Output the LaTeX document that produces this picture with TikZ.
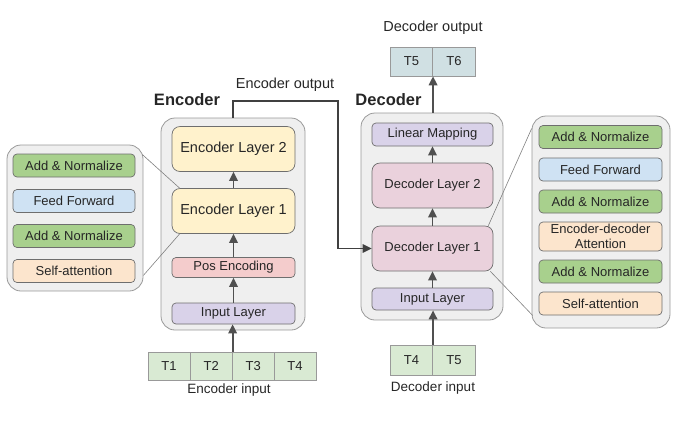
\documentclass[tikz,border=0pt]{standalone}
\usepackage{fontspec}
\setmainfont{Liberation Sans}
\usepackage{tikz}
\usetikzlibrary{arrows.meta,calc}
\definecolor{panelgray}{HTML}{EFEFEF}
\definecolor{panelline}{HTML}{999999}
\definecolor{blkline}{HTML}{6E6E6E}
\definecolor{arrgray}{HTML}{505050}
\definecolor{layyellow}{HTML}{FFF2CC}
\definecolor{normgreen}{HTML}{A8D08D}
\definecolor{ffblue}{HTML}{CFE2F3}
\definecolor{attorange}{HTML}{FCE5CD}
\definecolor{posred}{HTML}{F4CCCC}
\definecolor{decpink}{HTML}{EAD1DC}
\definecolor{inpurple}{HTML}{D9D2E9}
\definecolor{tokgreen}{HTML}{D9EAD3}
\definecolor{tokblue}{HTML}{D0E0E3}

\begin{document}
\begin{tikzpicture}[x=1pt,y=-1pt,text=black!85,
panel/.style={draw=panelline, fill=panelgray, rounded corners=14pt, line width=0.8pt},
blk/.style={draw=blkline, rounded corners=4pt, line width=0.7pt, inner sep=0pt, align=center, minimum width=123pt, minimum height=23pt, font=\fontsize{13}{14.5}\selectfont},
bigblk/.style={blk, rounded corners=8pt, minimum height=45pt},
tok/.style={draw=panelline, line width=0.6pt, inner sep=0pt, minimum width=42.5pt, minimum height=29pt, font=\fontsize{13}{15}\selectfont},
lbl/.style={font=\fontsize{13.5}{15}\selectfont},
title/.style={font=\bfseries\fontsize{16.5}{18}\selectfont},
arr/.style={-{Triangle[length=9pt,width=8.5pt]}, line width=1.8pt, draw=arrgray},
outln/.style={-{Triangle[length=9pt,width=8.5pt]}, line width=1.3pt, draw=black!75},
zoomln/.style={draw=gray, line width=0.6pt}]
\useasboundingbox (0,0) rectangle (692,424);

% encoder
\node (encBox) at (233,224) [panel, minimum width=144pt, minimum height=212pt] {};
\node (encTitle) at (187,100) [title] {Encoder};
\node (encL2) at (233.5,149) [bigblk, fill=layyellow, font=\fontsize{14.5}{16}\selectfont] {Encoder Layer 2};
\node (encL1) at (233.5,211) [bigblk, fill=layyellow, font=\fontsize{14.5}{16}\selectfont] {Encoder Layer 1};
\node (posEnc) at (233.5,267.5) [blk, fill=posred, minimum height=20pt] {Pos Encoding};
\node (encIn) at (233.5,313.5) [blk, fill=inpurple, minimum height=21pt] {Input Layer};
\foreach \i/\x in {1/169,2/211.3,3/253.3,4/295}
  \node (e\i) at (\x,366) [tok, minimum width=42pt, minimum height=28pt, fill=tokgreen] {T\i};
\node (encInLbl) at (229,390) [lbl] {Encoder input};

% encoder layer detail
\node (encPanel) at (75,218) [panel, minimum width=136pt, minimum height=146pt] {};
\node (eN2) at (74,165.5) [blk, fill=normgreen, minimum width=122pt] {Add \& Normalize};
\node (eFF) at (74,201) [blk, fill=ffblue, minimum width=122pt] {Feed Forward};
\node (eN1) at (74,236) [blk, fill=normgreen, minimum width=122pt] {Add \& Normalize};
\node (eSA) at (74,271) [blk, fill=attorange, minimum width=122pt] {Self-attention};
\draw[zoomln] ($(encPanel.north east)+(-1,10)$) -- ($(encL1.north west)+(8,0)$);
\draw[zoomln] ($(encPanel.south east)+(0,-16)$) -- ($(encL1.south west)+(8,0)$);

% decoder
\node (decBox) at (432,216.5) [panel, minimum width=142pt, minimum height=207pt] {};
\node (decTitle) at (388.5,100) [title] {Decoder};
\node (linMap) at (432.5,134.5) [blk, fill=inpurple, minimum width=121pt] {Linear Mapping};
\node (decL2) at (432.5,185.5) [bigblk, fill=decpink, minimum width=121pt] {Decoder Layer 2};
\node (decL1) at (432.5,248.5) [bigblk, fill=decpink, minimum width=121pt] {Decoder Layer 1};
\node (decIn) at (432.5,299) [blk, fill=inpurple, minimum width=121pt, minimum height=22pt] {Input Layer};
\foreach \n/\x in {4/411.5,5/454}
  \node (d\n) at (\x,360) [tok, minimum height=30pt, fill=tokgreen] {T\n};
\node (decInLbl) at (433,388) [lbl] {Decoder input};
\foreach \n/\x in {5/411.5,6/454}
  \node (o\n) at (\x,61.5) [tok, fill=tokblue] {T\n};
\node (decOutLbl) at (433,28) [lbl, font=\fontsize{14.5}{16}\selectfont] {Decoder output};

% decoder layer detail
\node (decPanel) at (601,222) [panel, minimum width=138pt, minimum height=212pt] {};
\node (dN3) at (600.5,137) [blk, fill=normgreen] {Add \& Normalize};
\node (dFF) at (600.5,169.5) [blk, fill=ffblue] {Feed Forward};
\node (dN2) at (600.5,201.5) [blk, fill=normgreen] {Add \& Normalize};
\node (dED) at (600.5,236.5) [blk, fill=attorange, minimum height=29pt] {Encoder-decoder\\Attention};
\node (dN1) at (600.5,271.5) [blk, fill=normgreen] {Add \& Normalize};
\node (dSA) at (600.5,303.5) [blk, fill=attorange] {Self-attention};
\draw[zoomln] ($(decL1.north east)+(-5,0)$) -- ($(decPanel.north west)+(0,13)$);
\draw[zoomln] ($(decL1.south east)+(-3,0)$) -- ($(decPanel.south west)+(1,-13)$);

% arrows
\draw[arr] (e2.north east) -- (e2.north east |- encIn.south);
\draw[arr] (encIn.north) -- (posEnc.south);
\draw[arr] (posEnc.north) -- (encL1.south);
\draw[arr] (encL1.north) -- (encL2.south);
\draw[arr] (d4.north east) -- (d4.north east |- decIn.south);
\draw[arr] (decIn.north) -- (decL1.south);
\draw[arr] (decL1.north) -- (decL2.south);
\draw[arr] (decL2.north) -- (linMap.south);
\draw[arr] (o5.south east |- decBox.north) -- (o5.south east);

% encoder output
\coordinate (encOut) at (338,101);
\draw[outln] (encBox.north) |- (encOut) |- (decL1.west);
\node (encOutLbl) at (285,85) [lbl, font=\fontsize{14.5}{16}\selectfont] {Encoder output};
\end{tikzpicture}
\end{document}
